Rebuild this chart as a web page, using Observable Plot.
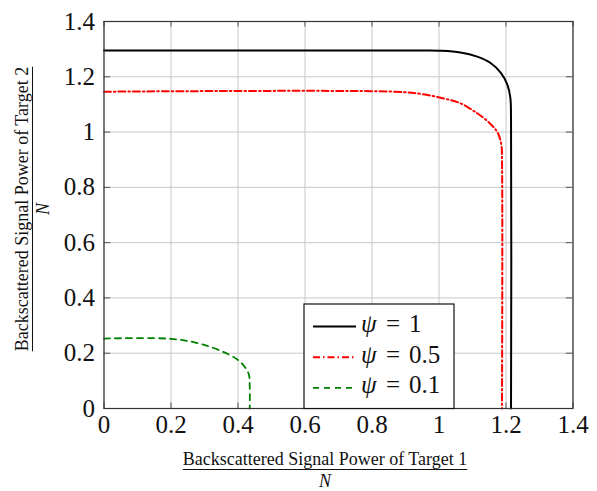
<!DOCTYPE html>
<html>
<head>
<meta charset="utf-8">
<script src="https://cdn.jsdelivr.net/npm/d3@7"></script>
<script src="https://cdn.jsdelivr.net/npm/@observablehq/plot@0.6"></script>
<style>
  html, body { margin: 0; padding: 0; background: white; }
</style>
</head>
<body>
<div id="chart"></div>
<script>
// Series values
const psi1X = [0, 0.95, 1.004, 1.064, 1.114, 1.154, 1.184, 1.204, 1.213, 1.215, 1.215];
const psi1Y = [1.295, 1.295, 1.294, 1.288, 1.273, 1.25, 1.215, 1.172, 1.124, 1.05, 0];
const psi05X = [0, 0.87, 0.945, 1.005, 1.064, 1.114, 1.144, 1.174, 1.186, 1.188, 1.188];
const psi05Y = [1.146, 1.146, 1.138, 1.124, 1.104, 1.068, 1.04, 1.0, 0.955, 0.9, 0];
const psi01X = [0, 0.2, 0.288, 0.378, 0.412, 0.432, 0.435, 0.435];
const psi01Y = [0.253, 0.252, 0.234, 0.192, 0.162, 0.125, 0.08, 0];

const seriesSymbol = "ψ";
const seriesValues = ["1", "0.5", "0.1"];
const seriesKeys = ["1", "0.5", "0.1"];
const xTicks = [0, 0.2, 0.4, 0.6, 0.8, 1, 1.2, 1.4];
const yTicks = [0, 0.2, 0.4, 0.6, 0.8, 1, 1.2, 1.4];
const xTickLabels = ["0", "0.2", "0.4", "0.6", "0.8", "1", "1.2", "1.4"];
const yTickLabels = ["0", "0.2", "0.4", "0.6", "0.8", "1", "1.2", "1.4"];
const xTitle = "Backscattered Signal Power of Target 1";
const yTitle = "Backscattered Signal Power of Target 2";
const denom = "N";

const styles = {
  "1":   {stroke: "#000000", strokeWidth: 2, dash: null},
  "0.5": {stroke: "#ff0000", strokeWidth: 2, dash: "7,3,1.5,3"},
  "0.1": {stroke: "#008000", strokeWidth: 1.8, dash: "6,5"}
};

const mk = (xs, ys) => xs.map((x, i) => ({x, y: ys[i]}));
const series = [mk(psi1X, psi1Y), mk(psi05X, psi05Y), mk(psi01X, psi01Y)];

const lineMarks = series.map((d, i) => {
  const s = styles[seriesKeys[i]];
  return Plot.line(d, {
    x: "x", y: "y", curve: "catmull-rom",
    stroke: s.stroke, strokeWidth: s.strokeWidth,
    strokeDasharray: s.dash ?? undefined
  });
});

const tickLen = 0.02;
const font = "Liberation Serif, Times New Roman, serif";
const plot = Plot.plot({
  width: 597,
  height: 491,
  marginLeft: 103.5,
  marginRight: 24.5,
  marginTop: 21,
  marginBottom: 83,
  style: {fontSize: "25px", background: "white", color: "#111"},
  x: {domain: [0, 1.4]},
  y: {domain: [0, 1.4]},
  marks: [
    Plot.gridX(xTicks, {stroke: "#c8c8c8", strokeOpacity: 1, strokeWidth: 1}),
    Plot.gridY(yTicks, {stroke: "#c8c8c8", strokeOpacity: 1, strokeWidth: 1}),
    Plot.ruleX(xTicks, {x: d => d, y1: 0, y2: tickLen, stroke: "#555"}),
    Plot.ruleX(xTicks, {x: d => d, y1: 1.4, y2: 1.4 - tickLen, stroke: "#555"}),
    Plot.ruleY(yTicks, {y: d => d, x1: 0, x2: tickLen, stroke: "#555"}),
    Plot.ruleY(yTicks, {y: d => d, x1: 1.4, x2: 1.4 - tickLen, stroke: "#555"}),
    Plot.axisX(xTicks, {tickSize: 0, tickPadding: 7, tickFormat: (d, i) => xTickLabels[i], label: null, fontSize: 25}),
    Plot.axisY(yTicks, {tickSize: 0, tickPadding: 9, tickFormat: (d, i) => yTickLabels[i], label: null, fontSize: 25}),
    ...lineMarks,
    Plot.frame({stroke: "#333", strokeWidth: 1.2})
  ]
});

document.getElementById("chart").appendChild(plot);
const svg = d3.select(plot);

// X axis title as a fraction
const gx = svg.append("g").attr("font-size", 18).attr("fill", "#111").attr("text-anchor", "middle");
const xt = gx.append("text").attr("x", 325).attr("y", 465).text(xTitle);
gx.append("text").attr("x", 325).attr("y", 487).attr("font-style", "italic").text(denom);

// Y axis title as a fraction (rotated)
const gy = svg.append("g").attr("font-size", 18).attr("fill", "#111").attr("text-anchor", "middle")
  .attr("transform", "translate(0,209) rotate(-90)");
const yt = gy.append("text").attr("x", 0).attr("y", 28).text(yTitle);
gy.append("text").attr("x", 0).attr("y", 49).attr("font-style", "italic").text(denom);

// Legend
const lg = svg.append("g").attr("font-size", 25).attr("text-anchor", "start").attr("fill", "#111");
lg.append("rect").attr("x", 304).attr("y", 304).attr("width", 150).attr("height", 104.5)
  .attr("fill", "white").attr("stroke", "#111").attr("stroke-width", 1.2);
seriesKeys.forEach((k, i) => {
  const s = styles[k];
  const base = 332 + i * 30.7;
  const cy = base - 5.5;
  const ln = lg.append("line").attr("x1", 313).attr("x2", 356).attr("y1", cy).attr("y2", cy)
    .attr("stroke", s.stroke).attr("stroke-width", s.strokeWidth);
  if (s.dash) ln.attr("stroke-dasharray", s.dash);
  lg.append("text").attr("x", 361).attr("y", base).attr("font-style", "italic").text(seriesSymbol);
  lg.append("text").attr("x", 386).attr("y", base).text("=");
  lg.append("text").attr("x", 409).attr("y", base).text(seriesValues[i]);
});

// force serif font on every text element
svg.style("font-family", font);
svg.selectAll("g").style("font-family", font);
svg.selectAll("text").style("font-family", font);

// fraction bars sized to the text
const xw = xt.node().getComputedTextLength();
gx.append("line").attr("x1", 325 - xw / 2).attr("x2", 325 + xw / 2).attr("y1", 469.5).attr("y2", 469.5).attr("stroke", "#111").attr("stroke-width", 1);
const yw = yt.node().getComputedTextLength();
gy.append("line").attr("x1", -yw / 2).attr("x2", yw / 2).attr("y1", 32.5).attr("y2", 32.5).attr("stroke", "#111").attr("stroke-width", 1);
</script>
</body>
</html>
